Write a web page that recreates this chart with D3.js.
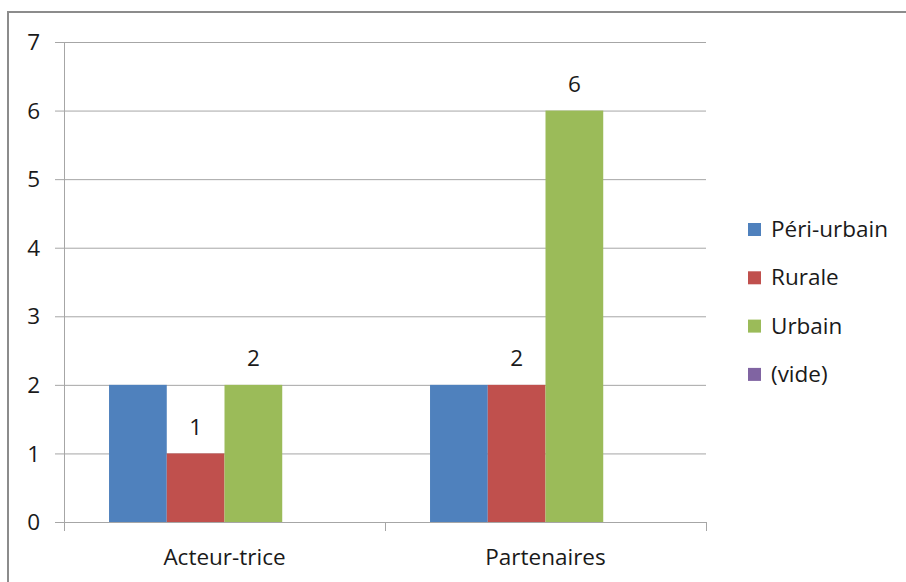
<!DOCTYPE html>
<html><head><meta charset="utf-8">
<script src="https://cdn.jsdelivr.net/npm/d3@7"></script>
<style>html,body{margin:0;padding:0;background:#fff;}svg{display:block;}</style>
</head><body>
<script>
const categories = ["Acteur-trice", "Partenaires"];
const seriesNames = ["Péri-urbain", "Rurale", "Urbain", "(vide)"];
const seriesColors = ["#4F81BD", "#C0504D", "#9BBB59", "#8064A2"];
const periUrbain = [2, 2];
const rurale = [1, 2];
const urbain = [2, 6];
const vide = [0, 0];
const showLabel = [[false, false], [true, true], [true, true], [false, false]];
const yTicks = [0, 1, 2, 3, 4, 5, 6, 7];

const W = 906, H = 582;
const font = "'Open Sans', 'Noto Sans', sans-serif";
const fs = 22.5;
const txt = "#1a1a1a";
const svg = d3.select("body").append("svg").attr("width", W).attr("height", H);

// outer frame
svg.append("rect").attr("x", 8).attr("y", 12).attr("width", W + 10).attr("height", H + 10)
  .attr("fill", "#fff").attr("stroke", "#8c8c8c").attr("stroke-width", 2);

const x0 = 64, x1 = 706, yTop = 42, yBot = 522;
const y = d3.scaleLinear().domain([0, 7]).range([yBot, yTop]);
const xBand = d3.scaleBand().domain(categories).range([x0, x1]).paddingInner(0).paddingOuter(0);
const inner = d3.scaleBand().domain(seriesNames).range([0, xBand.bandwidth()]).paddingInner(0).paddingOuter(0.78);

const allSeries = [periUrbain, rurale, urbain, vide];

// gridlines
svg.append("g").selectAll("line").data(yTicks).join("line")
  .attr("x1", x0 - 9).attr("x2", x1).attr("y1", d => y(d) + 0.5).attr("y2", d => y(d) + 0.5)
  .attr("stroke", "#a6a6a6").attr("stroke-width", 1);

// y axis line
svg.append("line").attr("x1", x0 + 0.5).attr("x2", x0 + 0.5).attr("y1", yTop).attr("y2", yBot + 9)
  .attr("stroke", "#a6a6a6");
// category ticks
const catTicks = [x0, ...categories.map(c => xBand(c) + xBand.bandwidth())];
svg.append("g").selectAll("line").data(catTicks).join("line")
  .attr("x1", d => d + 0.5).attr("x2", d => d + 0.5).attr("y1", yBot).attr("y2", yBot + 9)
  .attr("stroke", "#a6a6a6");

// y tick labels
svg.append("g").selectAll("text").data(yTicks).join("text")
  .attr("x", 40).attr("y", d => y(d)).attr("dy", "0.36em").attr("text-anchor", "end")
  .attr("font-family", font).attr("font-size", fs).attr("fill", txt).text(d => d);

// bars
seriesNames.forEach((s, si) => {
  const g = svg.append("g");
  g.selectAll("rect").data(categories).join("rect")
    .attr("x", c => xBand(c) + inner(s))
    .attr("width", inner.bandwidth())
    .attr("y", (c, i) => y(allSeries[si][i]))
    .attr("height", (c, i) => yBot - y(allSeries[si][i]))
    .attr("fill", seriesColors[si]);
  g.selectAll("text").data(categories).join("text")
    .filter((c, i) => showLabel[si][i])
    .attr("x", c => xBand(c) + inner(s) + inner.bandwidth() / 2)
    .attr("y", c => y(allSeries[si][categories.indexOf(c)]) - 27)
    .attr("dy", "0.36em").attr("text-anchor", "middle")
    .attr("font-family", font).attr("font-size", fs).attr("fill", txt)
    .text(c => allSeries[si][categories.indexOf(c)]);
});
// redraw baseline over bars
svg.append("line").attr("x1", x0 - 9).attr("x2", x1).attr("y1", yBot + 0.5).attr("y2", yBot + 0.5)
  .attr("stroke", "#a6a6a6");

// category labels
svg.append("g").selectAll("text").data(categories).join("text")
  .attr("x", c => xBand(c) + xBand.bandwidth() / 2).attr("y", 557).attr("dy", "0.36em")
  .attr("text-anchor", "middle").attr("font-family", font).attr("font-size", fs).attr("fill", txt)
  .text(c => c);

// legend
const lg = svg.append("g").selectAll("g").data(seriesNames).join("g")
  .attr("transform", (d, i) => `translate(748, ${229 + i * 48.3})`);
lg.append("rect").attr("x", 0).attr("y", -6).attr("width", 13).attr("height", 13)
  .attr("fill", (d, i) => seriesColors[i]);
lg.append("text").attr("x", 23).attr("y", 0).attr("dy", "0.36em")
  .attr("font-family", font).attr("font-size", fs).attr("fill", txt).text(d => d);
</script>
</body></html>
